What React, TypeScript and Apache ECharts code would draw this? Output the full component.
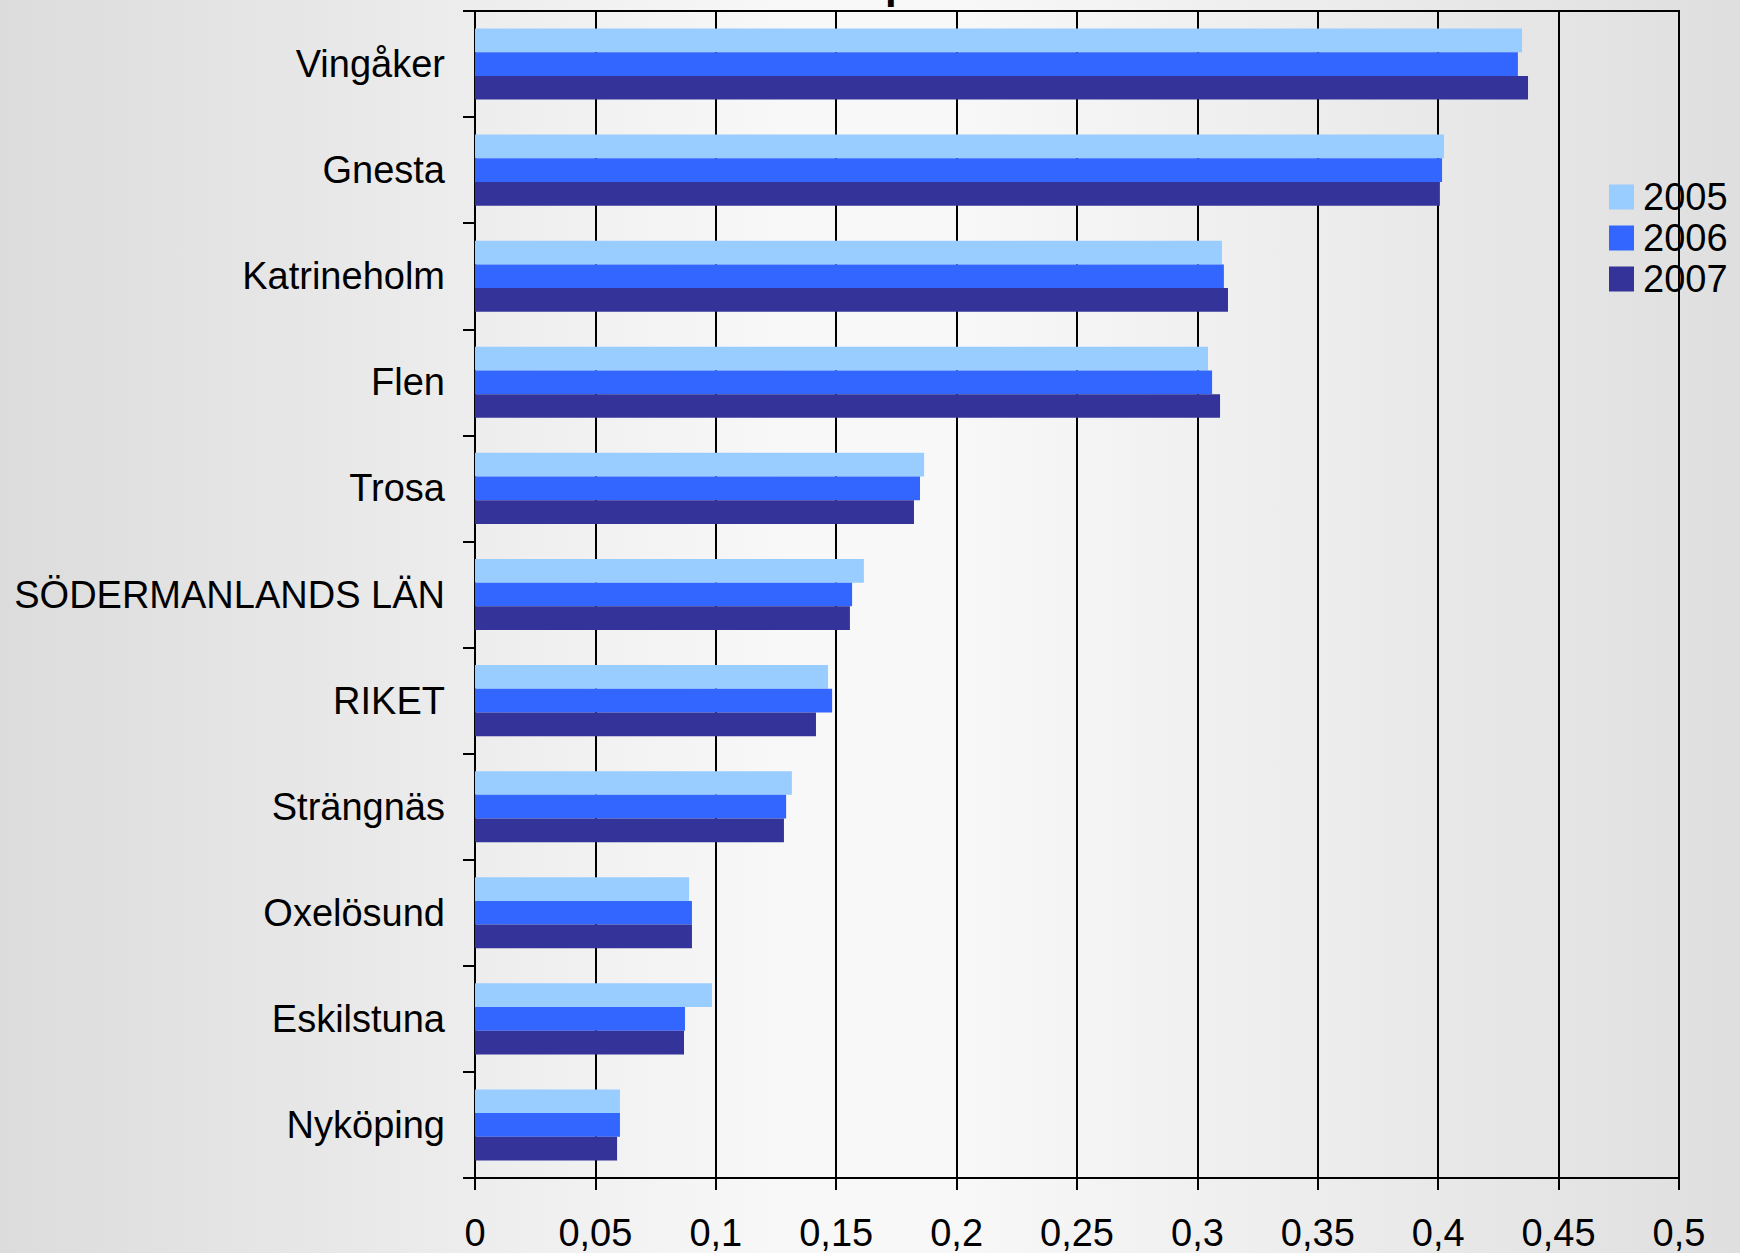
import React, { useEffect, useRef } from "react";
import * as echarts from "echarts";

const categories = [
  "Vingåker",
  "Gnesta",
  "Katrineholm",
  "Flen",
  "Trosa",
  "SÖDERMANLANDS LÄN",
  "RIKET",
  "Strängnäs",
  "Oxelösund",
  "Eskilstuna",
  "Nyköping",
];

const years = ["2005", "2006", "2007"];

const values2005 = [0.4348, 0.4024, 0.3102, 0.3044, 0.1865, 0.1615, 0.1466, 0.1316, 0.0889, 0.0984, 0.0602];
const values2006 = [0.4331, 0.4016, 0.311, 0.3061, 0.1848, 0.1566, 0.1483, 0.1292, 0.0901, 0.0872, 0.0602];
const values2007 = [0.4373, 0.4007, 0.3127, 0.3094, 0.1823, 0.1557, 0.1416, 0.1283, 0.0901, 0.0868, 0.059];

const seriesValues = [values2005, values2006, values2007];
const colors = ["#99CCFF", "#3366FF", "#333399"];

const FONT = "'Liberation Sans', Arial, sans-serif";

export default function App() {
  const ref = useRef<HTMLDivElement>(null);

  useEffect(() => {
    if (!ref.current) return;
    const chart = echarts.init(ref.current, null, { renderer: "svg" });
    const option = {
      animation: false,
      backgroundColor: new echarts.graphic.LinearGradient(0, 0, 1, 0, [
        { offset: 0, color: "#dcdcdc" },
        { offset: 0.45, color: "#f8f8f8" },
        { offset: 0.55, color: "#f8f8f8" },
        { offset: 1, color: "#dfdfdf" },
      ]),
      textStyle: { fontFamily: FONT },
      grid: {
        left: 475,
        top: 11,
        width: 1204,
        height: 1167,
        show: true,
        borderColor: "#000",
        borderWidth: 2,
        backgroundColor: "transparent",
        containLabel: false,
      },
      legend: {
        data: years,
        orient: "vertical",
        left: 1609,
        top: 178,
        itemWidth: 25,
        itemHeight: 25,
        itemGap: 3,
        padding: 0,
        icon: "rect",
        textStyle: {
          fontSize: 38,
          color: "#000",
          fontFamily: FONT,
          padding: [0, 0, 0, 4],
        },
      },
      xAxis: {
        type: "value",
        min: 0,
        max: 0.5,
        interval: 0.05,
        axisLine: { show: true, lineStyle: { color: "#000", width: 2 } },
        axisTick: { show: true, length: 12, lineStyle: { color: "#000", width: 2 } },
        axisLabel: {
          fontSize: 38,
          color: "#000",
          fontFamily: FONT,
          margin: 36,
          formatter: (v: number) => String(Math.round(v * 100) / 100).replace(".", ","),
        },
        splitLine: { show: true, lineStyle: { color: "#000", width: 2 } },
      },
      yAxis: {
        type: "category",
        data: categories,
        inverse: true,
        axisLine: { show: true, lineStyle: { color: "#000", width: 2 } },
        axisTick: { show: true, length: 12, lineStyle: { color: "#000", width: 2 } },
        axisLabel: { fontSize: 38, color: "#000", fontFamily: FONT, margin: 30 },
        splitLine: { show: false },
      },
      graphic: [
        {
          type: "text",
          left: 885,
          top: -38,
          style: { text: "p", font: `bold 42px ${FONT}`, fill: "#000" },
        },
      ],
      series: years.map((y, i) => ({
        name: y,
        type: "bar",
        data: seriesValues[i],
        barGap: "0%",
        barCategoryGap: "33%",
        itemStyle: { color: colors[i] },
      })),
    };
    chart.setOption(option);
    return () => chart.dispose();
  }, []);

  return (
    <div
      ref={ref}
      style={{ position: "absolute", left: 0, top: 0, width: 1740, height: 1253 }}
    />
  );
}
